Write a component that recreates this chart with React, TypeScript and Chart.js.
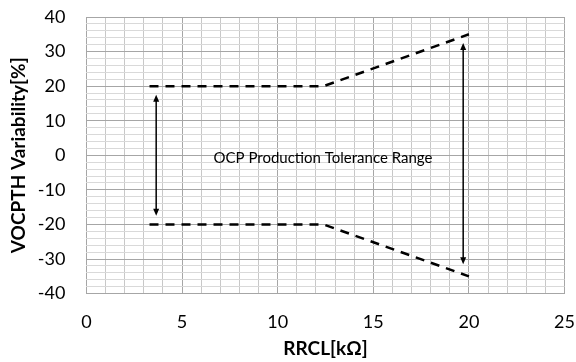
import React, { useEffect, useRef } from "react";
import { Chart, registerables } from "chart.js";

Chart.register(...registerables);

// Data
const upperX = [3.3, 12.4, 20];
const upperY = [20, 20, 35];
const lowerX = [3.3, 12.4, 20];
const lowerY = [-20, -20, -35];
const arrowX = [3.65, 19.7];
const arrowTop = [17.5, 32.5];
const arrowBottom = [-17.5, -31.5];
const noteText = "OCP Production Tolerance Range";
const noteX = 12.37;
const noteY = -0.7;
const xTitle = "RRCL[kΩ]";
const yTitle = "VOCPTH Variability[%]";

const FONT = "Lato, 'Liberation Sans', sans-serif";

const annotPlugin = {
  id: "annot",
  afterDatasetsDraw(chart: any) {
    const { ctx, scales } = chart;
    const xs = scales.x;
    const ys = scales.y;
    ctx.save();
    ctx.strokeStyle = "#000";
    ctx.fillStyle = "#000";
    ctx.lineWidth = 1.5;
    for (let i = 0; i < arrowX.length; i++) {
      const px = xs.getPixelForValue(arrowX[i]);
      const pt = ys.getPixelForValue(arrowTop[i]);
      const pb = ys.getPixelForValue(arrowBottom[i]);
      const hl = 7;
      const hw = 3;
      ctx.beginPath();
      ctx.moveTo(px, pt + hl - 1);
      ctx.lineTo(px, pb - hl + 1);
      ctx.stroke();
      ctx.beginPath();
      ctx.moveTo(px, pt);
      ctx.lineTo(px - hw, pt + hl);
      ctx.lineTo(px + hw, pt + hl);
      ctx.closePath();
      ctx.fill();
      ctx.beginPath();
      ctx.moveTo(px, pb);
      ctx.lineTo(px - hw, pb - hl);
      ctx.lineTo(px + hw, pb - hl);
      ctx.closePath();
      ctx.fill();
    }
    ctx.font = "15px " + FONT;
    ctx.textAlign = "center";
    ctx.textBaseline = "middle";
    ctx.fillText(noteText, xs.getPixelForValue(noteX), ys.getPixelForValue(noteY));
    ctx.restore();
  },
};

export default function App() {
  const ref = useRef<HTMLCanvasElement>(null);
  useEffect(() => {
    const canvas = ref.current;
    if (!canvas) return;
    const toPts = (xa: number[], ya: number[]) => xa.map((x, i) => ({ x, y: ya[i] }));
    const chart = new Chart(canvas, {
      type: "scatter",
      data: {
        datasets: [
          {
            data: toPts(upperX, upperY),
            showLine: true,
            borderColor: "#000",
            borderWidth: 2.5,
            borderDash: [9, 7],
            pointRadius: 0,
            fill: false,
          },
          {
            data: toPts(lowerX, lowerY),
            showLine: true,
            borderColor: "#000",
            borderWidth: 2.5,
            borderDash: [9, 7],
            pointRadius: 0,
            fill: false,
          },
        ],
      },
      options: {
        animation: false,
        responsive: true,
        maintainAspectRatio: false,
        layout: { padding: { left: 7, right: 1, top: 17, bottom: 2 } },
        plugins: { legend: { display: false }, tooltip: { enabled: false } },
        scales: {
          x: {
            type: "linear",
            min: 0,
            max: 25,
            border: { display: false },
            grid: {
              drawTicks: true,
              tickLength: 17,
              tickColor: "rgba(0,0,0,0)",
              color: (c: any) => (c.tick && c.tick.value % 5 === 0 ? "#a6a6a6" : "#c8c8c8"),
              lineWidth: 1,
            },
            ticks: {
              stepSize: 1,
              autoSkip: false,
              maxRotation: 0,
              padding: 1,
              color: "#000",
              font: { size: 18, family: FONT },
              callback: (v: any) => (v % 5 === 0 ? String(v) : ""),
            },
            title: {
              display: true,
              text: xTitle,
              color: "#000",
              font: { size: 19, weight: "bold", family: FONT },
              padding: { top: 3, bottom: 0 },
            },
          },
          y: {
            type: "linear",
            min: -40,
            max: 40,
            border: { display: false },
            grid: {
              drawTicks: true,
              tickLength: 20,
              tickColor: "rgba(0,0,0,0)",
              color: (c: any) => (c.tick && c.tick.value % 10 === 0 ? "#a6a6a6" : "#d9d9d9"),
              lineWidth: 1,
            },
            ticks: {
              stepSize: 2,
              autoSkip: false,
              padding: 1,
              color: "#000",
              font: { size: 18, family: FONT },
              callback: (v: any) => (v % 10 === 0 ? String(v) : ""),
            },
            title: {
              display: true,
              text: yTitle,
              color: "#000",
              font: { size: 19, weight: "bold", family: FONT },
              padding: { top: 0, bottom: 7 },
            },
          },
        },
      },
      plugins: [annotPlugin],
    } as any);
    return () => chart.destroy();
  }, []);
  return (
    <div style={{ position: "fixed", left: 0, top: 0, width: 576, height: 362, background: "#fff" }}>
      <canvas ref={ref} />
    </div>
  );
}
